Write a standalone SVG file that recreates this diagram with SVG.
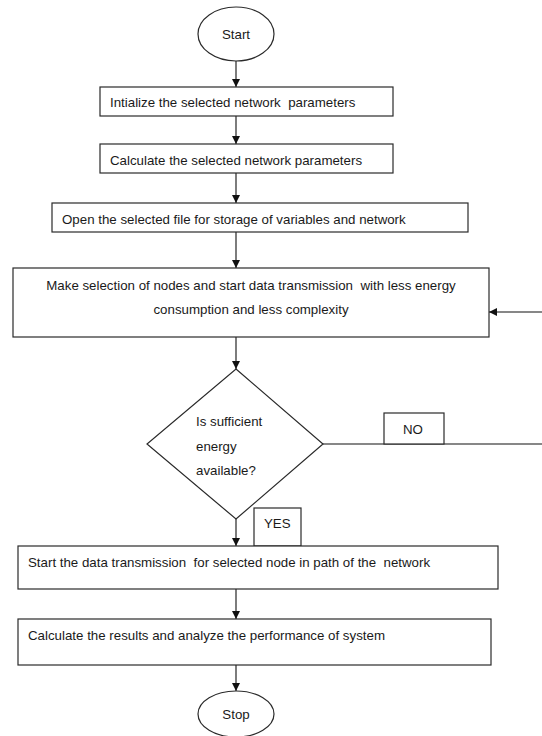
<svg xmlns="http://www.w3.org/2000/svg" width="542" height="736" viewBox="0 0 542 736">
<style>
.shape{fill:#fff;stroke:#2a2a2a;stroke-width:1.2}
.conn{fill:none;stroke:#111;stroke-width:1.1}
text{font-family:"Liberation Sans",Arial,sans-serif;font-size:13.3px;fill:#1a1a1a;white-space:pre}
.c{text-anchor:middle}
</style>
<defs>
<marker id="arr" viewBox="0 0 10 10" refX="10" refY="5" markerWidth="8" markerHeight="8" markerUnits="userSpaceOnUse" orient="auto">
<path d="M0,0 L10,5 L0,10 Z" fill="#111"/>
</marker>
</defs>
<rect width="542" height="736" fill="#fff"/>
<g id="connectors">
<line class="conn" x1="236" y1="61" x2="236" y2="87" marker-end="url(#arr)"/>
<line class="conn" x1="236" y1="116" x2="236" y2="144" marker-end="url(#arr)"/>
<line class="conn" x1="236" y1="173" x2="236" y2="203" marker-end="url(#arr)"/>
<line class="conn" x1="236" y1="232" x2="236" y2="268" marker-end="url(#arr)"/>
<line class="conn" x1="236" y1="337" x2="236" y2="369" marker-end="url(#arr)"/>
<line class="conn" x1="236" y1="519" x2="236" y2="546" marker-end="url(#arr)"/>
<line class="conn" x1="236" y1="589" x2="236" y2="619" marker-end="url(#arr)"/>
<line class="conn" x1="236" y1="665" x2="236" y2="691" marker-end="url(#arr)"/>
<path class="conn" d="M323,444 H546 V312 H489" marker-end="url(#arr)"/>
</g>
<g id="start">
<ellipse class="shape" cx="236" cy="34" rx="38" ry="27"/>
<text class="c" x="236" y="39">Start</text>
</g>
<g id="init">
<rect class="shape" x="100" y="87" width="293" height="29"/>
<text x="110" y="107" xml:space="preserve">Intialize the selected network  parameters</text>
</g>
<g id="calc">
<rect class="shape" x="100" y="144" width="293" height="29"/>
<text x="110" y="165">Calculate the selected network parameters</text>
</g>
<g id="open">
<rect class="shape" x="52" y="203" width="416" height="29"/>
<text x="62" y="224">Open the selected file for storage of variables and network</text>
</g>
<g id="select">
<rect class="shape" x="13" y="268" width="476" height="69"/>
<text class="c" x="251" y="290" xml:space="preserve">Make selection of nodes and start data transmission  with less energy</text>
<text class="c" x="251" y="314">consumption and less complexity</text>
</g>
<g id="decision">
<polygon class="shape" points="236,369 323,444 236,519 147,444"/>
<text x="196" y="426">Is sufficient</text>
<text x="196" y="451">energy</text>
<text x="196" y="475">available?</text>
</g>
<g id="no-label">
<rect class="shape" x="384" y="413" width="60" height="31"/>
<text x="403" y="434">NO</text>
</g>
<g id="yes-label">
<rect class="shape" x="254" y="508" width="47" height="38"/>
<text x="264" y="528">YES</text>
</g>
<g id="transmit">
<rect class="shape" x="18" y="546" width="480" height="43"/>
<text x="28" y="567" xml:space="preserve">Start the data transmission  for selected node in path of the  network</text>
</g>
<g id="results">
<rect class="shape" x="18" y="619" width="473" height="46"/>
<text x="28" y="640">Calculate the results and analyze the performance of system</text>
</g>
<g id="stop">
<ellipse class="shape" cx="236" cy="714" rx="38" ry="23"/>
<text class="c" x="236" y="719">Stop</text>
</g>
</svg>
